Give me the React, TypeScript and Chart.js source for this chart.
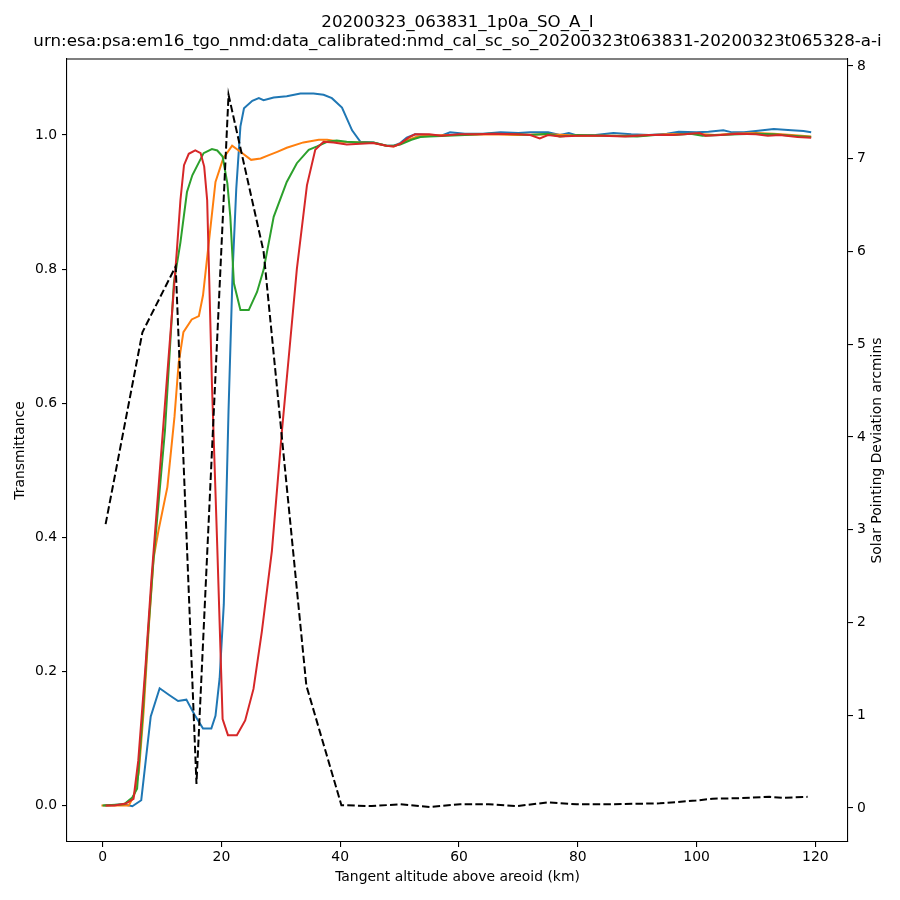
import React, { useRef, useEffect } from 'react';
import { Chart, registerables } from 'chart.js';

Chart.register(...registerables);

const FONT = "'DejaVu Sans', sans-serif";

const titleLines = [
    '20200323_063831_1p0a_SO_A_I',
    'urn:esa:psa:em16_tgo_nmd:data_calibrated:nmd_cal_sc_so_20200323t063831-20200323t065328-a-i',
];
const xLabel = 'Tangent altitude above areoid (km)';
const yLabel = 'Transmittance';
const y2Label = 'Solar Pointing Deviation arcmins';

// transmittance, four spectral bins (altitude in km)
const blueAlt = [0.3, 2.0, 3.5, 5.0, 6.5, 8.1, 9.6, 11.2, 12.7, 14.1, 15.5, 16.9, 18.3, 19.0, 19.7, 20.4, 21.2, 21.9, 22.5, 23.2, 23.8, 25.2, 26.3, 27.1, 28.8, 31.0, 33.3, 35.5, 37.2, 38.6, 40.3, 42.0, 43.4, 45.6, 47.8, 49.0, 50.1, 51.2, 52.6, 55, 57, 58.5, 61, 64, 67, 70, 72, 75, 77, 78.5, 80, 83, 86, 89, 92, 95, 97, 100, 102, 104.5, 106, 108, 110, 113, 116, 118, 119.3];
const blueTrans = [0.0, 0.001, 0.002, -0.001, 0.008, 0.133, 0.175, 0.165, 0.156, 0.158, 0.135, 0.115, 0.115, 0.134, 0.19, 0.3, 0.59, 0.8, 0.92, 1.013, 1.04, 1.051, 1.055, 1.052, 1.056, 1.058, 1.062, 1.062, 1.06, 1.055, 1.041, 1.007, 0.99, 0.989, 0.984, 0.984, 0.988, 0.996, 1.001, 1.0, 0.999, 1.004, 1.002, 1.002, 1.004, 1.003, 1.004, 1.004, 1.0, 1.003, 0.999, 1.0, 1.003, 1.001, 1.0, 1.002, 1.005, 1.004, 1.005, 1.007, 1.004, 1.004, 1.006, 1.009, 1.007, 1.006, 1.004];

const orangeAlt = [-0.2, 1.5, 3.0, 4.4, 5.3, 6.1, 6.9, 7.8, 8.6, 9.4, 10.9, 12.1, 12.8, 13.6, 15.0, 16.2, 16.9, 19.0, 20.3, 21.8, 23.2, 25.0, 26.6, 28.0, 29.4, 31.0, 33.8, 36.4, 37.8, 40.0, 43.4, 45.6, 47.8, 49.0, 50.1, 51.5, 53, 55, 58, 60, 65, 70, 75, 78, 80, 85, 90, 95, 100, 103, 106, 110, 113, 116, 119.3];
const orangeTrans = [0.0, 0.0, 0.0, 0.0, 0.015, 0.05, 0.14, 0.27, 0.37, 0.41, 0.475, 0.58, 0.66, 0.706, 0.725, 0.73, 0.761, 0.93, 0.965, 0.984, 0.975, 0.963, 0.965, 0.97, 0.975, 0.981, 0.989, 0.993, 0.993, 0.99, 0.989, 0.988, 0.984, 0.983, 0.987, 0.993, 0.998, 0.999, 1.0, 1.0, 1.001, 1.0, 1.001, 1.0, 0.999, 0.999, 0.999, 1.001, 1.002, 1.0, 1.002, 1.003, 1.002, 1.0, 0.998];

const greenAlt = [0.0, 1.5, 3.6, 5.0, 5.8, 6.7, 7.6, 8.5, 9.4, 10.5, 12.0, 13.1, 14.2, 15.1, 17.0, 18.4, 19.3, 20.2, 21.0, 21.5, 22.1, 23.2, 24.6, 26.0, 27.1, 28.8, 31.0, 32.7, 34.7, 36.1, 37.8, 39.4, 41.1, 43.4, 45.6, 47.8, 49.0, 50.1, 52, 53.5, 55, 58, 61, 65, 70, 72, 75, 77, 80, 85, 90, 93, 96, 99, 101, 104, 107, 110, 113, 116, 119.3];
const greenTrans = [0.0, 0.001, 0.002, 0.012, 0.025, 0.13, 0.25, 0.36, 0.45, 0.56, 0.78, 0.84, 0.915, 0.94, 0.973, 0.979, 0.977, 0.968, 0.928, 0.878, 0.779, 0.739, 0.739, 0.766, 0.799, 0.878, 0.93, 0.958, 0.978, 0.983, 0.99, 0.992, 0.99, 0.989, 0.989, 0.984, 0.984, 0.986, 0.993, 0.997, 0.998, 0.999, 1.0, 1.002, 1.001, 1.0, 1.002, 0.998, 1.0, 0.999, 0.998, 1.0, 1.0, 1.002, 0.999, 1.0, 1.001, 1.002, 1.001, 0.999, 0.997];

const redAlt = [0.5, 2.0, 3.9, 5.2, 6.0, 7.2, 8.2, 12.5, 13.1, 13.7, 14.5, 15.6, 16.5, 17.1, 17.6, 18.4, 19.3, 20.2, 21.1, 22.6, 24.0, 25.4, 26.8, 28.5, 30.2, 31.6, 32.7, 34.4, 35.8, 37.2, 38.9, 41.1, 43.4, 45.6, 47.8, 49.0, 50.1, 51.5, 52.6, 55, 57, 60, 63, 66, 70, 72, 73.6, 75, 77, 80, 84, 88, 92, 96, 98, 100.5, 101.5, 104, 107, 110, 112, 114, 117, 119.3];
const redTrans = [0.0, 0.0, 0.003, 0.01, 0.067, 0.206, 0.336, 0.828, 0.903, 0.955, 0.972, 0.977, 0.973, 0.953, 0.903, 0.63, 0.386, 0.129, 0.105, 0.105, 0.127, 0.174, 0.259, 0.38, 0.56, 0.694, 0.8, 0.925, 0.978, 0.99, 0.989, 0.986, 0.987, 0.988, 0.984, 0.983, 0.987, 0.996, 1.001, 1.001, 0.999, 1.001, 1.001, 1.002, 1.001, 1.0, 0.995, 1.0, 0.998, 0.999, 0.999, 0.998, 1.0, 1.0, 1.001, 1.003, 0.999, 1.0, 1.002, 1.001, 0.999, 1.0, 0.997, 0.996];

// pointing deviation (right axis)
const devAlt = [0.5, 6.7, 12.3, 15.8, 21.2, 27.1, 34.3, 40.2, 45.3, 50.1, 55.1, 60.2, 65, 69.7, 75, 79.8, 85, 90, 93.8, 99.9, 102.7, 107, 112.3, 114.5, 118.7];
const devArcmin = [3.06, 5.13, 5.84, 0.26, 7.69, 6.0, 1.32, 0.03, 0.02, 0.04, 0.01, 0.04, 0.04, 0.02, 0.06, 0.04, 0.04, 0.045, 0.05, 0.08, 0.1, 0.105, 0.12, 0.11, 0.12];

const pts = (xs: number[], ys: number[]) => xs.map((x, i) => ({ x, y: ys[i] }));

const decorations = {
    id: 'decorations',
    afterDraw(chart: any) {
        const { ctx, chartArea } = chart;
        ctx.save();
        // top spine
        ctx.strokeStyle = '#000';
        ctx.lineWidth = 1.1;
        ctx.beginPath();
        ctx.moveTo(chartArea.left, chartArea.top);
        ctx.lineTo(chartArea.right, chartArea.top);
        ctx.stroke();
        // title
        ctx.fillStyle = '#000';
        ctx.textAlign = 'center';
        ctx.textBaseline = 'middle';
        ctx.font = `16.7px ${FONT}`;
        const cx = (chartArea.left + chartArea.right) / 2;
        ctx.fillText(titleLines[0], cx, 23);
        ctx.fillText(titleLines[1], cx, 42);
        // right axis label, reading upwards like matplotlib
        ctx.translate(877, (chartArea.top + chartArea.bottom) / 2);
        ctx.rotate(-Math.PI / 2);
        ctx.font = `13.9px ${FONT}`;
        ctx.fillText(y2Label, 0, 0);
        ctx.restore();
    },
};

const axisBits = {
    grid: { display: true, drawOnChartArea: false, drawTicks: true, tickLength: 5, color: '#000', lineWidth: 1.1 },
    border: { display: true, color: '#000', width: 1.1 },
};

const App: React.FC = () => {
    const chartRef = useRef<HTMLCanvasElement>(null);
    const chartInstanceRef = useRef<Chart | null>(null);

    useEffect(() => {
        if (!chartRef.current) return;
        const ctx = chartRef.current.getContext('2d');
        if (!ctx) return;
        if (chartInstanceRef.current) chartInstanceRef.current.destroy();

        const line = (data: any[], color: string, order: number) => ({
            data,
            borderColor: color,
            backgroundColor: color,
            borderWidth: 2,
            pointRadius: 0,
            tension: 0,
            yAxisID: 'y',
            order,
        });

        chartInstanceRef.current = new Chart(ctx, {
            type: 'line',
            data: {
                datasets: [
                    line(pts(blueAlt, blueTrans), '#1f77b4', 5),
                    line(pts(orangeAlt, orangeTrans), '#ff7f0e', 4),
                    line(pts(greenAlt, greenTrans), '#2ca02c', 3),
                    line(pts(redAlt, redTrans), '#d62728', 2),
                    {
                        data: pts(devAlt, devArcmin),
                        borderColor: '#000',
                        backgroundColor: '#000',
                        borderWidth: 2,
                        borderDash: [7.5, 3.2],
                        pointRadius: 0,
                        tension: 0,
                        yAxisID: 'y1',
                        order: 1,
                    },
                ],
            },
            options: {
                animation: false,
                responsive: false,
                devicePixelRatio: 1,
                layout: { padding: { top: 59, left: 0, right: 0, bottom: 0 } },
                plugins: {
                    legend: { display: false },
                    tooltip: { enabled: false },
                    title: { display: false },
                },
                scales: {
                    x: {
                        type: 'linear',
                        min: -6.0,
                        max: 125.5,
                        ...axisBits,
                        ticks: {
                            stepSize: 20,
                            includeBounds: false,
                            autoSkip: false,
                            maxRotation: 0,
                            padding: 2,
                            color: '#000',
                            font: { family: FONT, size: 13.9 },
                            callback: (v: any) => String(v),
                        },
                        title: {
                            display: true,
                            text: xLabel,
                            color: '#000',
                            font: { family: FONT, size: 13.9 },
                            padding: { top: 0, bottom: 14 },
                        },
                        afterFit: (s: any) => { s.height = 58; },
                    },
                    y: {
                        type: 'linear',
                        position: 'left',
                        min: -0.0543,
                        max: 1.1134,
                        ...axisBits,
                        ticks: {
                            stepSize: 0.2,
                            includeBounds: false,
                            padding: 5,
                            color: '#000',
                            font: { family: FONT, size: 13.9 },
                            callback: (v: any) => Number(v).toFixed(1),
                        },
                        title: {
                            display: true,
                            text: yLabel,
                            color: '#000',
                            font: { family: FONT, size: 13.9 },
                            padding: { top: 12.5, bottom: 0 },
                        },
                        afterFit: (s: any) => { s.width = 67; },
                    },
                    y1: {
                        type: 'linear',
                        position: 'right',
                        min: -0.367,
                        max: 8.076,
                        ...axisBits,
                        ticks: {
                            stepSize: 1,
                            includeBounds: false,
                            padding: 4,
                            color: '#000',
                            font: { family: FONT, size: 13.9 },
                            callback: (v: any) => String(v),
                        },
                        title: { display: false },
                        afterFit: (s: any) => { s.width = 52; },
                    },
                },
            },
            plugins: [decorations],
        } as any);

        return () => {
            if (chartInstanceRef.current) {
                chartInstanceRef.current.destroy();
                chartInstanceRef.current = null;
            }
        };
    }, []);

    return (
        <div style={{ position: 'fixed', left: 0, top: 0, width: '900px', height: '900px', background: '#fff' }}>
            <canvas ref={chartRef} width={900} height={900} />
        </div>
    );
};

export default App;
